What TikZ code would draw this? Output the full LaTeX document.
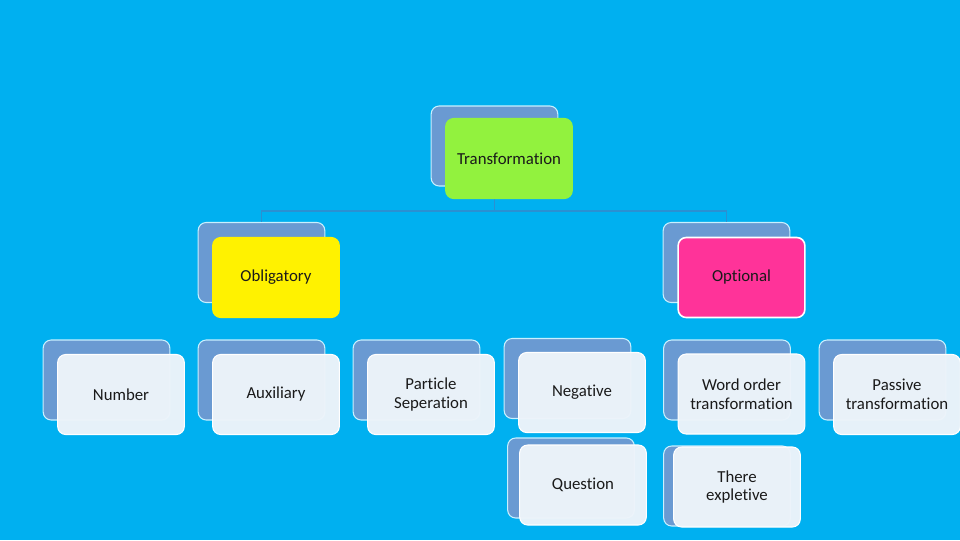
\documentclass[tikz,border=0pt]{standalone}
\usepackage{fontspec}
\setmainfont[Ligatures=NoCommon]{Carlito}
\definecolor{bg}{HTML}{00B0F0}
\definecolor{backbox}{HTML}{6A9AD2}
\definecolor{lightbox}{HTML}{EEF4FA}
\definecolor{greenbox}{HTML}{92F23E}
\definecolor{pinkbox}{HTML}{FF3399}
\definecolor{conn}{HTML}{2A90D2}
\definecolor{txt}{HTML}{1A1A1A}
\tikzset{
  boxbase/.style={rectangle, rounded corners=6pt, minimum width=95pt, minimum height=60pt, inner sep=2pt},
  backb/.style={boxbase, fill=backbox, draw={rgb,255:red,200;green,240;blue,255}, line width=0.8pt},
  frontb/.style={boxbase, fill=lightbox, fill opacity=0.97, text opacity=1, draw=white, line width=0.8pt, text=txt, font=\fontsize{12.6pt}{14pt}\selectfont, align=center},
  greenb/.style={frontb, fill=greenbox, fill opacity=1, draw=greenbox},
  yellowb/.style={frontb, fill=yellow, fill opacity=1, draw=yellow},
  pinkb/.style={frontb, fill=pinkbox, fill opacity=1, draw=white, line width=1.2pt},
  connl/.style={draw=conn, line width=0.8pt}
}
\begin{document}
\begin{tikzpicture}[x=0.75pt,y=-0.75pt]
\fill[bg] (0,0) rectangle (960,540);
\useasboundingbox (0,0) rectangle (960,540);
% back boxes
\node[backb] (tB) at (494.5,146) {};
\node[backb] (obB) at (261.5,262.5) {};
\node[backb] (opB) at (726.5,262.5) {};
\coordinate (bus) at (0,211);
\draw[connl] (tB.center) -- (tB.center |- bus);
\draw[connl] (obB.north) -- (obB.north |- bus) -- (opB.north |- bus) -- (opB.north);
\node[backb] (nB) at (106.5,380) {};
\node[backb] (aB) at (261.5,380) {};
\node[backb] (pB) at (416.5,380) {};
\node[backb] (ngB) at (567.5,378.5) {};
\node[backb] (wB) at (727,380) {};
\node[backb] (psB) at (882.5,380) {};
\node[backb] (qB) at (571,478) {};
\node[backb] (xB) at (727,486) {};
% front boxes
\node[greenb] (t) at (509,158.5) {Transformation};
\node[yellowb] (ob) at (276,277.5) {Obligatory};
\node[pinkb] (op) at (741.5,277.5) {Optional};
\node[frontb] (n) at (121,394.5) {Number};
\node[frontb] (a) at (276,394.5) {Auxiliary};
\node[frontb] (p) at (431,394.5) {Particle\\Seperation};
\node[frontb] (ng) at (582,392.5) {Negative};
\node[frontb] (w) at (741.5,394) {Word order\\transformation};
\node[frontb] (ps) at (897,394.5) {Passive\\transformation};
\node[frontb] (q) at (583,485) {Question};
\node[frontb] (x) at (737,487) {There\\expletive};
\end{tikzpicture}
\end{document}
